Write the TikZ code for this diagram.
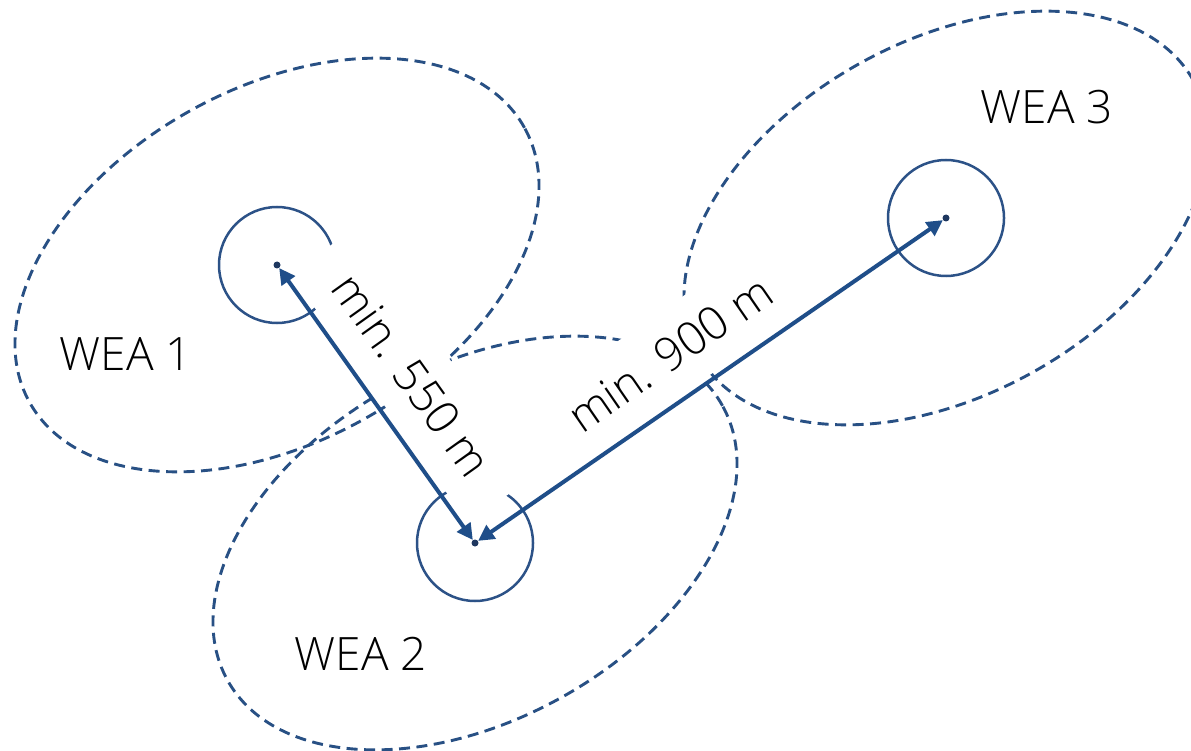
\documentclass[tikz,border=0pt]{standalone}
\usepackage{fontspec}
\IfFontExistsTF{Open Sans Light}{\setmainfont{Open Sans Light}}{\IfFontExistsTF{Lato Light}{\setmainfont{Lato Light}}{\setmainfont{Open Sans}}}
\usetikzlibrary{arrows.meta}
\definecolor{arrowblue}{RGB}{31,78,137}
\definecolor{ringblue}{RGB}{44,82,135}
\definecolor{wakeblue}{RGB}{40,80,132}
\definecolor{hubnavy}{RGB}{30,55,95}
\begin{document}
\begin{tikzpicture}[x=1pt,y=-1pt,
  wake/.style={draw=wakeblue, line width=2.9pt, dash pattern=on 11pt off 6.5pt},
  ring/.style={draw=ringblue, line width=2.5pt},
  hub/.style={circle, fill=hubnavy, inner sep=0pt, minimum size=7pt},
  dist/.style={draw=arrowblue, line width=4pt, {Triangle[length=16pt,width=16pt]}-{Triangle[length=16pt,width=16pt]}},
  distlabel/.style={fill=white, inner sep=0pt, minimum width=306pt, minimum height=80pt, font=\fontsize{46}{50}\selectfont},
  wealabel/.style={font=\fontsize{46}{50}\selectfont, anchor=base, inner sep=0pt}
]
\useasboundingbox (0,0) rectangle (1191,751);
\clip (0,0) rectangle (1191,751);
\coordinate (c1) at (277,265);
\coordinate (c2) at (475,543);
\coordinate (c3) at (946,218);
% wake zones
\foreach \c in {c1,c2,c3}
  \draw[wake, rotate around={29:(\c)}] (\c) ellipse [x radius=283pt, y radius=177pt];
% rotor circles
\foreach \c in {c1,c2,c3}
  \draw[ring] (\c) circle [radius=58pt];
% distance labels (white boxes hide what lies beneath)
\node[distlabel, rotate=-54.5] (l1) at (411.9,375.2) {min. 550 m};
\node[distlabel, rotate=34.6] (l2) at (670,353.8) {min. 900 m};
% hubs
\node[hub] (h1) at (c1) {};
\node[hub] (h2) at (c2) {};
\node[hub] (h3) at (c3) {};
% distance arrows
\draw[dist] (h1) -- (h2);
\draw[dist] (h2) -- (h3);
% turbine names
\node[wealabel] (t1) at (126,370) {WEA 1};
\node[wealabel] (t2) at (361,670) {WEA 2};
\node[wealabel] (t3) at (1047,124) {WEA 3};
\end{tikzpicture}
\end{document}
